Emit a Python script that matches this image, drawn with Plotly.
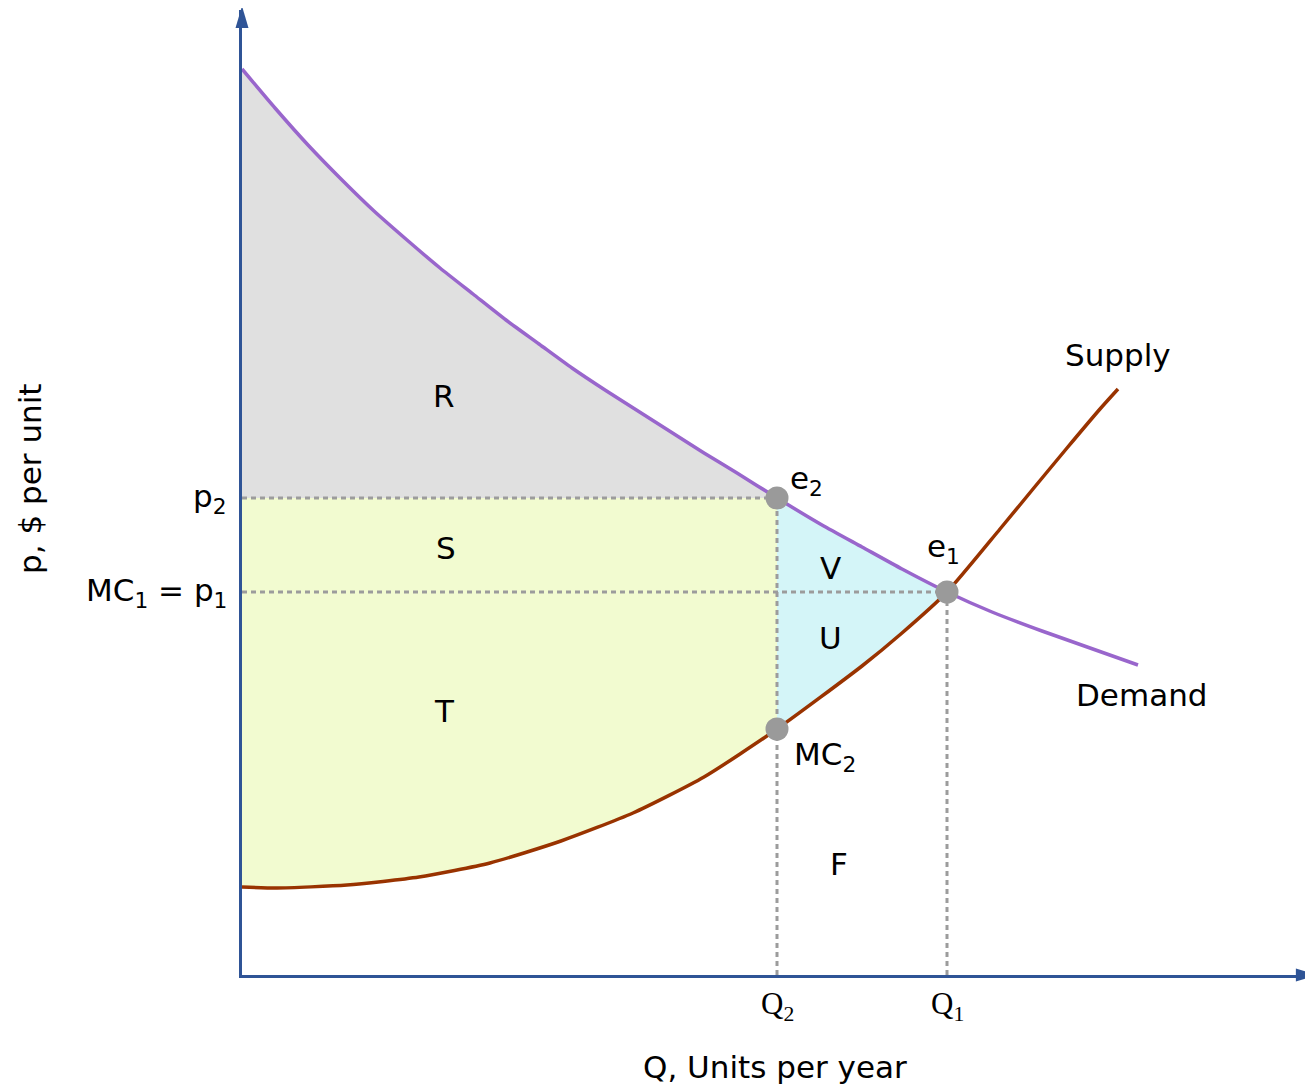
import plotly.graph_objects as go

# demand curve (Q, p)
demand_q = [0, 3.3, 6.6, 9.9, 13.2, 16.5, 19.8, 23.1, 26.4, 29.7, 33.0, 36.3, 39.6, 42.9, 46.2, 49.5,
            53.5, 58.0, 62.0, 66.0, 70.5, 75.0, 80.0, 89.6]
demand_p = [90.6, 86.7, 83.0, 79.6, 76.4, 73.5, 70.7, 68.1, 65.5, 63.1, 60.7, 58.5, 56.4, 54.3, 52.2, 50.2,
            47.7, 45.0, 42.8, 40.6, 38.3, 36.3, 34.4, 31.0]
# supply curve (Q, p)
supply_q = [0, 3.5, 10.5, 17.7, 24.8, 31.9, 39.1, 46.2, 53.5, 62.0, 66.0, 70.5, 75.8, 79.1, 82.5, 85.8, 87.6]
supply_p = [8.8, 8.7, 9.0, 9.8, 11.2, 13.4, 16.2, 19.8, 24.6, 30.9, 34.2, 38.3, 44.6, 48.6, 52.7, 56.6, 58.6]

Q1, Q2 = 70.5, 53.5
p1, p2 = 38.3, 47.7
MC2 = 24.6

AXIS = "#2f5496"
FONT = "DejaVu Sans"
XMAX, YMAX = 107.1, 96.5

fig = go.Figure()

i_e2 = demand_q.index(Q2)
i_e1 = demand_q.index(Q1)
j_mc2 = supply_q.index(Q2)
j_e1 = supply_q.index(Q1)

# R area (grey)
fig.add_trace(go.Scatter(x=demand_q[:i_e2 + 1] + [0], y=demand_p[:i_e2 + 1] + [p2],
                         fill="toself", fillcolor="#e0e0e0", line=dict(width=0), mode="lines", hoverinfo="skip"))
# S + T area (yellow)
fig.add_trace(go.Scatter(x=[0, Q2] + supply_q[:j_mc2 + 1][::-1], y=[p2, p2] + supply_p[:j_mc2 + 1][::-1],
                         fill="toself", fillcolor="#f2fbd0", line=dict(width=0), mode="lines", hoverinfo="skip"))
# U + V area (cyan)
fig.add_trace(go.Scatter(x=demand_q[i_e2:i_e1 + 1] + supply_q[j_mc2:j_e1 + 1][::-1],
                         y=demand_p[i_e2:i_e1 + 1] + supply_p[j_mc2:j_e1 + 1][::-1],
                         fill="toself", fillcolor="#d4f5f8", line=dict(width=0), mode="lines", hoverinfo="skip"))

# dotted guide lines
dot = dict(color="#9c9c9c", width=3, dash="5px,4px")
for xs, ys in [([0, Q2], [p2, p2]), ([0, Q1], [p1, p1]), ([Q2, Q2], [0, p2]), ([Q1, Q1], [0, p1])]:
    fig.add_trace(go.Scatter(x=xs, y=ys, mode="lines", line=dot, hoverinfo="skip"))

# curves
fig.add_trace(go.Scatter(x=demand_q, y=demand_p, mode="lines",
                         line=dict(color="#9966cc", width=3.5, shape="spline", smoothing=0.6), hoverinfo="skip"))
fig.add_trace(go.Scatter(x=supply_q, y=supply_p, mode="lines",
                         line=dict(color="#993300", width=3.5, shape="spline", smoothing=0.6), hoverinfo="skip"))

# points
fig.add_trace(go.Scatter(x=[Q2, Q1, Q2], y=[p2, p1, MC2], mode="markers",
                         marker=dict(size=23, color="#9a9a9a"), hoverinfo="skip"))

# axis arrowheads (paper coords, just outside the plot area)
hx, hy = 6.5 / 1071, 6.5 / 965
shapes = [
    dict(type="path", xref="paper", yref="paper", line=dict(width=0), fillcolor=AXIS,
         path=f"M {-hx} {1 - 0.0187} L {hx} {1 - 0.0187} L 0 1.0041 Z"),
    dict(type="path", xref="paper", yref="paper", line=dict(width=0), fillcolor=AXIS,
         path=f"M 0.984 {-hy} L 0.984 {hy} L 1.0047 0 Z"),
]

tf = dict(family=FONT, size=31, color="black")
sf = dict(family="Liberation Serif", size=31, color="black")
ann = []
for txt, x, y in [("R", 20.2, 57.9), ("S", 20.4, 42.7), ("T", 20.2, 26.4),
                  ("V", 58.8, 40.7), ("U", 58.8, 33.7), ("F", 59.7, 11.1)]:
    ann.append(dict(x=x, y=y, text=txt, showarrow=False, font=tf))
ann += [
    dict(x=Q2, y=p2, text="e<sub>2</sub>", xanchor="left", xshift=11, yshift=18, showarrow=False, font=tf),
    dict(x=Q1, y=p1, text="e<sub>1</sub>", xanchor="center", xshift=-4, yshift=44, showarrow=False, font=tf),
    dict(x=Q2, y=MC2, text="MC<sub>2</sub>", xanchor="left", xshift=15, yshift=-27, showarrow=False, font=tf),
    dict(x=supply_q[-1], y=supply_p[-1], text="Supply", xanchor="center", yshift=34, showarrow=False, font=tf),
    dict(x=demand_q[-1], y=demand_p[-1], text="Demand", xanchor="center", xshift=3, yshift=-30,
         showarrow=False, font=tf),
    dict(x=0, y=p2, text="p<sub>2</sub>", xanchor="right", xshift=-13, showarrow=False, font=tf),
    dict(x=0, y=p1, text="MC<sub>1</sub> = p<sub>1</sub>", xanchor="right", xshift=-13, showarrow=False, font=tf),
    dict(x=Q2, y=0, text="Q<sub>2</sub>", yanchor="top", yshift=-9, showarrow=False, font=sf),
    dict(x=Q1, y=0, text="Q<sub>1</sub>", yanchor="top", yshift=-9, showarrow=False, font=sf),
    dict(x=0.498, xref="paper", y=-0.0953, yref="paper", xanchor="center", yanchor="middle",
         text="Q, Units per year", showarrow=False, font=tf),
    dict(x=-0.198, xref="paper", y=0.514, yref="paper", xanchor="center", yanchor="middle",
         text="p, $ per unit", textangle=-90, showarrow=False, font=tf),
]

fig.update_layout(
    width=1305, height=1081,
    margin=dict(l=234, r=0, t=2, b=114),
    plot_bgcolor="white", paper_bgcolor="white",
    showlegend=False,
    annotations=ann,
    shapes=shapes,
    xaxis=dict(range=[0, XMAX], showgrid=False, zeroline=False, showticklabels=False, ticks="",
               showline=True, linecolor=AXIS, linewidth=3),
    yaxis=dict(range=[0, YMAX], showgrid=False, zeroline=False, showticklabels=False, ticks="",
               showline=True, linecolor=AXIS, linewidth=3),
)

fig.write_html("out.html")
